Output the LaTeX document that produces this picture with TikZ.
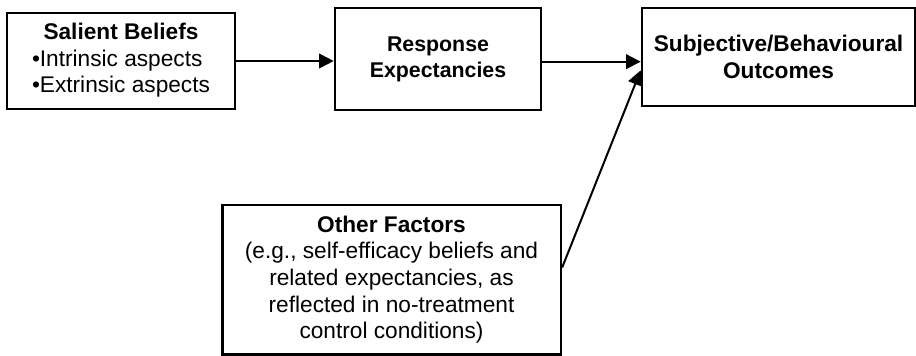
\documentclass[tikz,border=0pt]{standalone}
\usepackage{fontspec}
\setmainfont{Liberation Sans}
\usetikzlibrary{positioning, arrows.meta}

\begin{document}
\begin{tikzpicture}[x=0.75pt, y=-0.75pt,
    % Thick frames and slightly thinner connectors
    every path/.style={color=black, line width=1.5pt},
    every node/.style={color=black, font=\fontsize{17pt}{20pt}\selectfont}
  ]
  % --- Styles for boxes and arrows ---
  \tikzstyle{box style}=[draw, line width=2pt, inner sep=4pt, align=center]
  \tikzstyle{link style}=[-{Triangle[length=11pt, width=11pt]}]

  \useasboundingbox (0,0) rectangle (916,356);

  % --- Boxes ---
  \node[box style, minimum width=171pt, minimum height=72pt] (sal) at (121,61)
    {\begin{tabular}{@{}l@{}}\multicolumn{1}{@{}c@{}}{\textbf{Salient Beliefs}}\\
     \textbullet Intrinsic aspects\\ \textbullet Extrinsic aspects\end{tabular}};
  \node[box style, minimum width=154.5pt, minimum height=76.5pt,
        font=\fontsize{16pt}{19.5pt}\selectfont] (resp) at (438,59)
    {\textbf{Response}\\\textbf{Expectancies}};
  \node[box style, minimum width=204.75pt, minimum height=73.5pt] (outc) at (778.5,57)
    {\textbf{Subjective/Behavioural}\\\textbf{Outcomes}};
  \node[box style, minimum width=254pt, minimum height=112pt] (other) at (391.5,279.5)
    {\textbf{Other Factors}\\(e.g., self-efficacy beliefs and\\related expectancies, as\\reflected in no-treatment\\control conditions)};

  % --- Arrows ---
  \draw[link style] (sal.east) -- (sal.east -| resp.west);
  \draw[link style] ([yshift=-2pt]resp.east) -- ([yshift=-2pt]resp.east -| outc.west);
  \draw[link style] ([yshift=9pt]other.east) -- ([yshift=-10pt]outc.west);
\end{tikzpicture}
\end{document}
